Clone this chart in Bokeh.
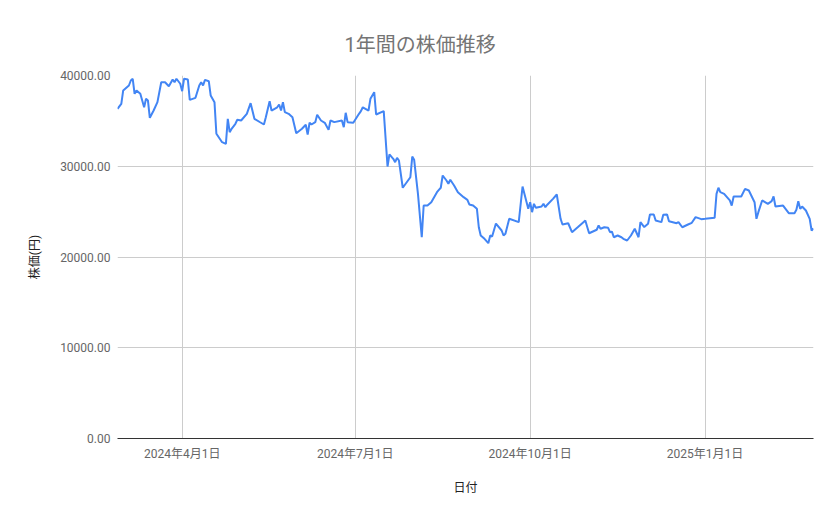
from datetime import datetime

from bokeh.embed import file_html
from bokeh.models import ColumnDataSource, FixedTicker, NumeralTickFormatter, Range1d
from bokeh.plotting import figure
from bokeh.resources import INLINE

title_text = "1年間の株価推移"
x_label = "日付"
y_label = "株価(円)"

dates = [
    "2024-02-27", "2024-02-29", "2024-03-01", "2024-03-04", "2024-03-05", "2024-03-06",
    "2024-03-07", "2024-03-08", "2024-03-10", "2024-03-11", "2024-03-12", "2024-03-13",
    "2024-03-14", "2024-03-15", "2024-03-17", "2024-03-19", "2024-03-21", "2024-03-23",
    "2024-03-25", "2024-03-27", "2024-03-28", "2024-03-29", "2024-03-31", "2024-04-01",
    "2024-04-02", "2024-04-04", "2024-04-05", "2024-04-08", "2024-04-10", "2024-04-11",
    "2024-04-12", "2024-04-13", "2024-04-15", "2024-04-16", "2024-04-18", "2024-04-19",
    "2024-04-22", "2024-04-24", "2024-04-25", "2024-04-26", "2024-04-27", "2024-04-29",
    "2024-04-30", "2024-05-02", "2024-05-05", "2024-05-07", "2024-05-09", "2024-05-12",
    "2024-05-14", "2024-05-15", "2024-05-17", "2024-05-18", "2024-05-21", "2024-05-22",
    "2024-05-23", "2024-05-24", "2024-05-25", "2024-05-27", "2024-05-29", "2024-05-31",
    "2024-06-03", "2024-06-05", "2024-06-06", "2024-06-07", "2024-06-08", "2024-06-10",
    "2024-06-11", "2024-06-13", "2024-06-15", "2024-06-17", "2024-06-18", "2024-06-20",
    "2024-06-24", "2024-06-25", "2024-06-26", "2024-06-27", "2024-06-30", "2024-07-03",
    "2024-07-04", "2024-07-05", "2024-07-08", "2024-07-09", "2024-07-11", "2024-07-12",
    "2024-07-16", "2024-07-18", "2024-07-19", "2024-07-21", "2024-07-22", "2024-07-23",
    "2024-07-24", "2024-07-26", "2024-07-30", "2024-07-31", "2024-08-01", "2024-08-03",
    "2024-08-05", "2024-08-06", "2024-08-08", "2024-08-10", "2024-08-13", "2024-08-14",
    "2024-08-15", "2024-08-16", "2024-08-18", "2024-08-19", "2024-08-20", "2024-08-22",
    "2024-08-24", "2024-08-27", "2024-08-29", "2024-08-30", "2024-09-01", "2024-09-03",
    "2024-09-04", "2024-09-05", "2024-09-07", "2024-09-09", "2024-09-10", "2024-09-11",
    "2024-09-13", "2024-09-16", "2024-09-17", "2024-09-18", "2024-09-20", "2024-09-25",
    "2024-09-27", "2024-09-30", "2024-10-01", "2024-10-02", "2024-10-03", "2024-10-04",
    "2024-10-07", "2024-10-08", "2024-10-09", "2024-10-10", "2024-10-13", "2024-10-15",
    "2024-10-17", "2024-10-18", "2024-10-21", "2024-10-23", "2024-10-26", "2024-10-29",
    "2024-10-30", "2024-11-01", "2024-11-05", "2024-11-06", "2024-11-07", "2024-11-09",
    "2024-11-11", "2024-11-12", "2024-11-13", "2024-11-14", "2024-11-16", "2024-11-18",
    "2024-11-19", "2024-11-21", "2024-11-23", "2024-11-25", "2024-11-27", "2024-11-28",
    "2024-11-30", "2024-12-02", "2024-12-03", "2024-12-05", "2024-12-06", "2024-12-09",
    "2024-12-10", "2024-12-12", "2024-12-13", "2024-12-17", "2024-12-18", "2024-12-20",
    "2024-12-23", "2024-12-25", "2024-12-27", "2024-12-30", "2025-01-01", "2025-01-06",
    "2025-01-07", "2025-01-08", "2025-01-09", "2025-01-11", "2025-01-14", "2025-01-15",
    "2025-01-16", "2025-01-20", "2025-01-22", "2025-01-24", "2025-01-27", "2025-01-28",
    "2025-01-29", "2025-01-31", "2025-02-03", "2025-02-05", "2025-02-06", "2025-02-07",
    "2025-02-11", "2025-02-14", "2025-02-17", "2025-02-18", "2025-02-19", "2025-02-20",
    "2025-02-21", "2025-02-23", "2025-02-25", "2025-02-26", "2025-02-27",
]

prices = [
    36330, 36880, 38350, 38900, 39450, 39640,
    37980, 38350, 37980, 37250, 36500, 37430,
    37250, 35340, 36140, 37060, 39260, 39260,
    38820, 39560, 39260, 39640, 39090, 38270,
    39640, 39560, 37320, 37540, 38900, 39260,
    38900, 39520, 39370, 37800, 37060, 33575,
    32650, 32470, 35230, 33750, 34120, 34680,
    35120, 35040, 35780, 36950, 35230, 34850,
    34600, 35410, 37170, 36140, 36500, 36800,
    36140, 37060, 35960, 35780, 35410, 33640,
    34130, 34570, 33500, 34790, 34600, 34860,
    35670, 35040, 34790, 34010, 35040, 34860,
    35040, 34300, 35890, 34860, 34790, 35780,
    36070, 36500, 36140, 37430, 38160, 35700,
    36070, 29970, 31300, 30820, 30450, 30930,
    30630, 27630, 28790, 31070, 30710, 26960,
    22180, 25670, 25670, 26040, 27140, 27400,
    27630, 28980, 28430, 28070, 28510, 27880,
    27140, 26590, 26300, 25790, 25670, 25310,
    23280, 22370, 22000, 21520, 22370, 22260,
    23690, 22920, 22370, 22550, 24210, 23840,
    27770, 25310, 26040, 24940, 25860, 25420,
    25560, 25860, 25490, 25760, 26410, 26890,
    24210, 23580, 23720, 22730, 23280, 23840,
    24020, 22620, 23000, 23470, 23110, 23280,
    23220, 22730, 22800, 22180, 22370, 22180,
    22000, 21820, 22370, 23110, 22180, 23840,
    23300, 23660, 24680, 24680, 24020, 23840,
    24650, 24680, 23930, 23720, 23840, 23280,
    23580, 23770, 24390, 24170, 24210, 24320,
    26960, 27630, 27140, 26960, 26230, 25670,
    26670, 26670, 27510, 27330, 26040, 24210,
    24940, 26230, 25860, 26150, 26670, 25560,
    25670, 24830, 24830, 25200, 26150, 25310,
    25560, 25120, 24210, 22920, 23140,
]

y_ticks = [0, 10000, 20000, 30000, 40000]
x_tick_dates = ["2024-04-01", "2024-07-01", "2024-10-01", "2025-01-01"]
x_tick_labels = ["2024年4月1日", "2024年7月1日", "2024年10月1日", "2025年1月1日"]

FONT = "Roboto, 'Noto Sans CJK JP', sans-serif"


def to_dt(s):
    return datetime.strptime(s, "%Y-%m-%d")


def to_ms(s):
    return (to_dt(s) - datetime(1970, 1, 1)).total_seconds() * 1000.0


source = ColumnDataSource(data=dict(
    date=[to_dt(d) for d in dates],
    price=prices,
))

p = figure(width=822, height=502, x_axis_type="datetime",
           output_backend="svg", toolbar_location=None,
           x_range=Range1d(to_dt(dates[0]), to_dt(dates[-1])),
           y_range=Range1d(0, 40000),
           min_border_left=117, min_border_right=9,
           min_border_top=75, min_border_bottom=64)
p.outline_line_color = None
p.background_fill_color = "white"
p.border_fill_color = "white"

p.line(x="date", y="price", source=source, line_color="#4285f4", line_width=2)

# title: centred on the whole chart, so shift it left of the plot area
p.title.text = title_text
p.title.align = "left"
p.title.offset = 227
p.title.standoff = 37
p.title.text_font = FONT
p.title.text_font_size = "20px"
p.title.text_font_style = "normal"
p.title.text_color = "#757575"

# x axis
x_ticks = [to_ms(d) for d in x_tick_dates]
p.xaxis.ticker = FixedTicker(ticks=x_ticks)
p.xaxis.major_label_overrides = {t: lab for t, lab in zip(x_ticks, x_tick_labels)}
p.xaxis.axis_line_color = "#333333"
p.xaxis.major_tick_line_color = None
p.xaxis.minor_tick_line_color = None
p.xaxis.major_label_standoff = 2
p.xaxis.major_label_text_font = FONT
p.xaxis.major_label_text_font_size = "12px"
p.xaxis.major_label_text_color = "#666666"
p.xaxis.axis_label = x_label
p.xaxis.axis_label_text_font = FONT
p.xaxis.axis_label_text_font_size = "12px"
p.xaxis.axis_label_text_font_style = "normal"
p.xaxis.axis_label_text_color = "#222222"
p.xaxis.axis_label_standoff = 17

# y axis
p.yaxis.ticker = FixedTicker(ticks=y_ticks)
p.yaxis.formatter = NumeralTickFormatter(format="0.00")
p.yaxis.axis_line_color = None
p.yaxis.major_tick_line_color = None
p.yaxis.minor_tick_line_color = None
p.yaxis.major_label_standoff = 1
p.yaxis.major_label_text_font = FONT
p.yaxis.major_label_text_font_size = "12px"
p.yaxis.major_label_text_color = "#666666"
p.yaxis.axis_label = y_label
p.yaxis.axis_label_text_font = FONT
p.yaxis.axis_label_text_font_size = "12px"
p.yaxis.axis_label_text_font_style = "normal"
p.yaxis.axis_label_text_color = "#222222"
p.yaxis.axis_label_standoff = 15

p.xgrid.grid_line_color = "#cccccc"
p.ygrid.grid_line_color = "#cccccc"

open("out.html", "w").write(file_html(p, INLINE))
